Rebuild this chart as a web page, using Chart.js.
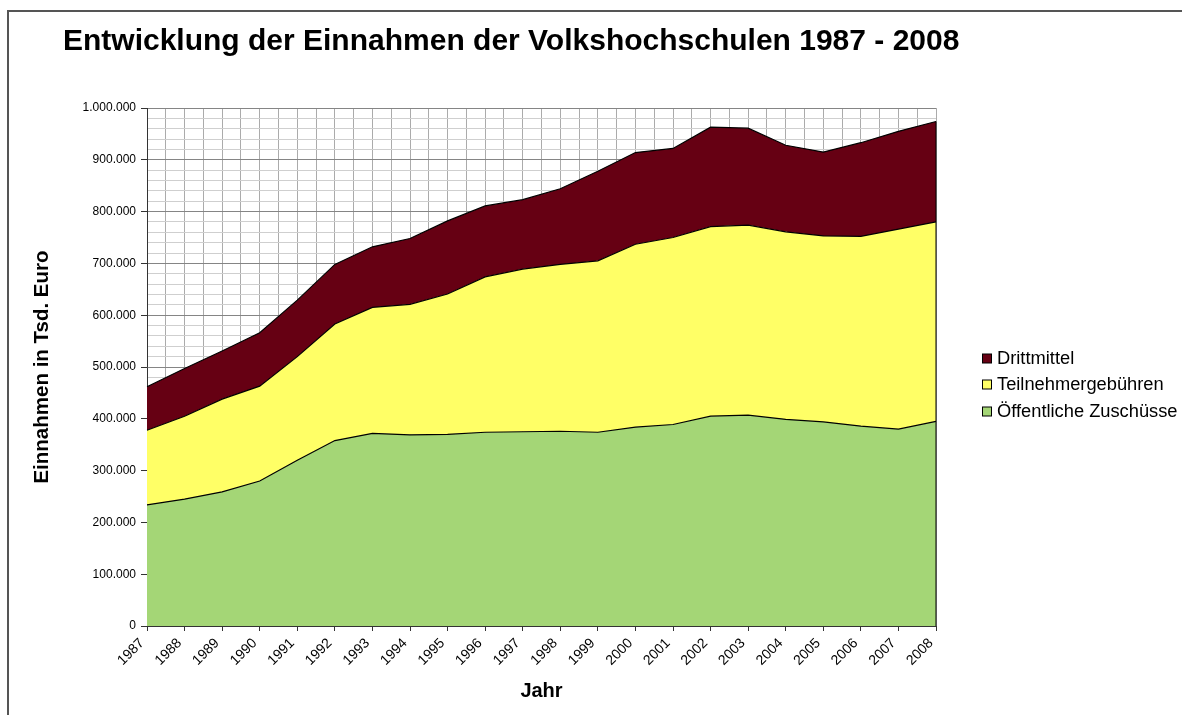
<!DOCTYPE html>
<html>
<head>
<meta charset="utf-8">
<script src="https://cdn.jsdelivr.net/npm/chart.js@4.4.1/dist/chart.umd.min.js"></script>
<style>
  html, body { margin: 0; padding: 0; background: #fff; }
  #wrap { width: 1182px; height: 715px; position: relative; }
</style>
</head>
<body>
<div id="wrap"><canvas id="c" width="1182" height="715"></canvas></div>
<script>
// ---- data (Tsd. Euro) ----
const years = ['1987','1988','1989','1990','1991','1992','1993','1994','1995','1996','1997','1998','1999','2000','2001','2002','2003','2004','2005','2006','2007','2008'];
const oeffentlicheZuschuesse = [234000,245000,259000,280000,320000,358000,372000,369000,370000,374000,375000,376000,374000,384000,389000,405000,407000,399000,394000,386000,380000,395000];
const teilnehmergebuehren   = [144000,160000,179000,183000,200000,225000,243000,252000,271000,300000,314000,322000,331000,353000,361000,366000,367000,362000,359000,366000,386000,385000];
const drittmittel           = [ 84000, 92000, 93000,103000,109000,115000,117000,127000,141000,137000,134000,146000,173000,177000,172000,192000,187000,167000,162000,181000,189000,194000];
const seriesNames = ['Öffentliche Zuschüsse','Teilnehmergebühren','Drittmittel'];
const titleText = 'Entwicklung der Einnahmen der Volkshochschulen 1987 - 2008';
const yTitle = 'Einnahmen in Tsd. Euro';
const xTitle = 'Jahr';

const FONT = '"Liberation Sans", Arial, sans-serif';
const colors = { green: '#A4D676', yellow: '#FFFF66', red: '#660013' };

function fmt(v) { return String(v).replace(/\B(?=(\d{3})+(?!\d))/g, '.'); }

const decorPlugin = {
  id: 'decor',
  beforeDraw(chart) {
    const ctx = chart.ctx;
    ctx.save();
    ctx.fillStyle = '#fff';
    ctx.fillRect(0, 0, chart.width, chart.height);
    ctx.strokeStyle = '#555';
    ctx.lineWidth = 2;
    ctx.beginPath();
    ctx.moveTo(8, chart.height + 2);
    ctx.lineTo(8, 11);
    ctx.lineTo(chart.width + 2, 11);
    ctx.stroke();
    ctx.restore();
  },
  afterDatasetsDraw(chart) {
    const ctx = chart.ctx;
    const x = chart.scales.x, y = chart.scales.y;
    const last = years.length - 1;
    const total = oeffentlicheZuschuesse[last] + teilnehmergebuehren[last] + drittmittel[last];
    const px = x.getPixelForValue(last);
    ctx.save();
    ctx.strokeStyle = '#000';
    ctx.lineWidth = 1;
    ctx.beginPath();
    ctx.moveTo(px, y.getPixelForValue(0));
    ctx.lineTo(px, y.getPixelForValue(total));
    ctx.stroke();
    ctx.restore();
  },
  afterDraw(chart) {
    const ctx = chart.ctx;
    ctx.save();
    // title
    ctx.fillStyle = '#000';
    ctx.font = 'bold 30px ' + FONT;
    ctx.textBaseline = 'alphabetic';
    ctx.textAlign = 'left';
    ctx.fillText(titleText, 63, 50);
    // legend (reverse order)
    const items = [
      { label: seriesNames[2], color: colors.red },
      { label: seriesNames[1], color: colors.yellow },
      { label: seriesNames[0], color: colors.green }
    ];
    const ys = [359, 385, 412];
    ctx.font = '18.3px ' + FONT;
    ctx.textBaseline = 'middle';
    items.forEach((it, i) => {
      ctx.fillStyle = it.color;
      ctx.fillRect(982.5, ys[i] - 5, 9, 9);
      ctx.strokeStyle = '#000';
      ctx.lineWidth = 1;
      ctx.strokeRect(982.5, ys[i] - 5, 9, 9);
      ctx.fillStyle = '#000';
      ctx.fillText(it.label, 997, ys[i]);
    });
    ctx.restore();
  }
};

new Chart(document.getElementById('c'), {
  type: 'line',
  data: {
    labels: years,
    datasets: [
      { label: seriesNames[0], data: oeffentlicheZuschuesse, backgroundColor: colors.green, fill: 'origin' },
      { label: seriesNames[1], data: teilnehmergebuehren, backgroundColor: colors.yellow, fill: '-1' },
      { label: seriesNames[2], data: drittmittel, backgroundColor: colors.red, fill: '-1' }
    ].map(d => Object.assign(d, { borderColor: '#000', borderWidth: 1.2, pointRadius: 0, tension: 0 }))
  },
  options: {
    responsive: false,
    animation: false,
    layout: { padding: { left: 10, top: 108, right: 246, bottom: 5 } },
    plugins: { legend: { display: false }, title: { display: false }, tooltip: { enabled: false } },
    scales: {
      x: {
        type: 'category',
        offset: false,
        grid: { drawOnChartArea: false, drawTicks: true, tickLength: 5, tickColor: '#333' },
        border: { color: '#333', width: 1 },
        ticks: { autoSkip: false, minRotation: 45, maxRotation: 45, padding: 4, labelOffset: -5, color: '#000', font: { family: FONT, size: 14 } },
        title: { display: true, text: xTitle, color: '#000', font: { family: FONT, size: 20, weight: 'bold' }, padding: { top: 0, bottom: 7 } },
        afterFit(s) { s.height = 84; }
      },
      xMinor: {
        type: 'linear',
        position: 'bottom',
        min: 0,
        max: years.length - 1,
        ticks: { display: false, stepSize: 0.5 },
        grid: { drawTicks: false, color: '#ABABAB', lineWidth: 1 },
        border: { display: false },
        afterFit(s) { s.height = 0; }
      },
      y: {
        stacked: true,
        min: 0,
        max: 1000000,
        grid: {
          color: c => (c.tick && c.tick.value % 100000 === 0) ? '#858585' : '#CFCFCF',
          tickColor: c => (c.tick && c.tick.value % 100000 === 0) ? '#333' : 'rgba(0,0,0,0)',
          tickLength: 6
        },
        border: { color: '#333', width: 1 },
        ticks: {
          stepSize: 20000,
          autoSkip: false,
          padding: 5,
          color: '#000',
          font: { family: FONT, size: 12 },
          callback: v => (v % 100000 === 0) ? fmt(v) : ''
        },
        title: { display: true, text: yTitle, color: '#000', font: { family: FONT, size: 20.5, weight: 'bold' }, padding: { top: 20, bottom: 0 } },
        afterFit(s) { s.width = 137; }
      }
    }
  },
  plugins: [decorPlugin]
});
</script>
</body>
</html>
